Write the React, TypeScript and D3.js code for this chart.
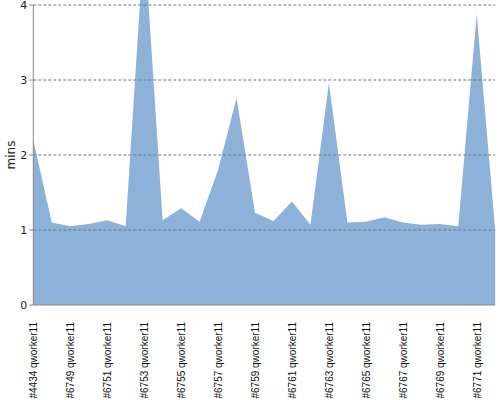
import React from "react";
import * as d3 from "d3";

const categories = [
  "#4434 qworker11", "#6748 qworker11", "#6749 qworker11", "#6750 qworker11", "#6751 qworker11",
  "#6752 qworker11", "#6753 qworker11", "#6754 qworker11", "#6755 qworker11", "#6756 qworker11",
  "#6757 qworker11", "#6758 qworker11", "#6759 qworker11", "#6760 qworker11", "#6761 qworker11",
  "#6762 qworker11", "#6763 qworker11", "#6764 qworker11", "#6765 qworker11", "#6766 qworker11",
  "#6767 qworker11", "#6768 qworker11", "#6769 qworker11", "#6770 qworker11", "#6771 qworker11",
  "#6772 qworker11",
];
const values = [
  2.2, 1.1, 1.05, 1.08, 1.13, 1.05, 4.9, 1.13, 1.29, 1.11,
  1.8, 2.76, 1.23, 1.12, 1.38, 1.07, 2.96, 1.1, 1.11, 1.17,
  1.1, 1.07, 1.08, 1.05, 3.88, 1.0,
];
const yTicks = [0, 1, 2, 3, 4];

export default function App() {
  const W = 500, H = 400;
  const left = 33.3, right = 495.2, top = 5, bottom = 305;
  const x = d3.scalePoint<string>().domain(categories).range([left, right]);
  const y = d3.scaleLinear().domain([0, 4]).range([bottom, top]);
  const area = d3
    .area<number>()
    .x((_, i) => x(categories[i]) as number)
    .y0(bottom)
    .y1((d) => y(d));
  return (
    <svg width={W} height={H} style={{ position: "absolute", left: 0, top: 0 }}>
      <path d={area(values) || ""} fill="#8eb1da" />
      {yTicks.filter((t) => t > 0).map((t) => (
        <line key={t} x1={left} x2={right} y1={y(t)} y2={y(t)} stroke="#777" strokeWidth={1} strokeDasharray="3,2" />
      ))}
      <line x1={left} x2={left} y1={top} y2={bottom} stroke="#888" strokeWidth={1} />
      <line x1={left} x2={right} y1={bottom} y2={bottom} stroke="#888" strokeWidth={1} />
      {yTicks.map((t) => (
        <g key={t}>
          <line x1={left - 4} x2={left} y1={y(t)} y2={y(t)} stroke="#888" />
          <text x={left - 6} y={y(t)} dy="0.35em" textAnchor="end" fontFamily="DejaVu Sans" fontSize={11} fill="#222">
            {t}
          </text>
        </g>
      ))}
      <text transform={`translate(15,${(top + bottom) / 2}) rotate(-90)`} textAnchor="middle" fontFamily="DejaVu Sans" fontSize={12} fill="#222">
        mins
      </text>
      {categories.map((c, i) =>
        i % 2 === 0 ? (
          <text
            key={c}
            transform={`translate(${(x(c) as number) + 4},322) rotate(-90)`}
            textAnchor="end"
            fontFamily="Liberation Sans"
            fontSize={10}
            fill="#111"
          >
            {c}
          </text>
        ) : null
      )}
    </svg>
  );
}
